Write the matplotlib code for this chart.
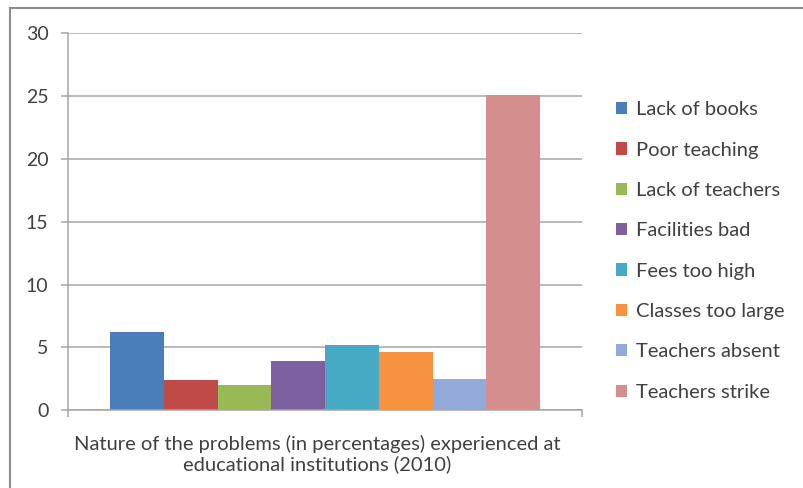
import matplotlib.pyplot as plt
from matplotlib.lines import Line2D

plt.rcParams['font.family'] = ['Lato', 'DejaVu Sans']

# Share of reported problems at educational institutions, 2010 (%)
problems = ["Lack of books", "Poor teaching", "Lack of teachers", "Facilities bad",
            "Fees too high", "Classes too large", "Teachers absent", "Teachers strike"]
percentages = [6.2, 2.4, 2.0, 3.9, 5.2, 4.6, 2.5, 25.1]
colors = ["#4A7EBB", "#BE4B48", "#98B954", "#7D60A0",
          "#46AAC5", "#F69240", "#93A9D8", "#D48E8E"]
y_ticks = [0, 5, 10, 15, 20, 25, 30]
category = "Nature of the problems (in percentages) experienced at\neducational institutions (2010)"

fig = plt.figure(figsize=(8.04, 4.88), dpi=100)
ax = fig.add_axes([0.0846, 0.1598, 0.6393, 0.7716])

# one category, eight series side by side
group = 0.8366
w = group / len(problems)
for i, (name, val, c) in enumerate(zip(problems, percentages, colors)):
    ax.bar((i - (len(problems) - 1) / 2) * w, val, width=w, color=c, label=name)

ax.set_xlim(-0.5, 0.5)
ax.set_ylim(0, 30)
ax.set_yticks(y_ticks)
ax.set_xticks([-0.5, 0.5])
ax.set_xticklabels(["", ""])
ax.yaxis.grid(True, color="#A6A6A6", linewidth=1.1)
ax.set_axisbelow(True)
for s in ["top", "right"]:
    ax.spines[s].set_visible(False)
for s in ["left", "bottom"]:
    ax.spines[s].set_color("#A6A6A6")
    ax.spines[s].set_linewidth(1.1)
ax.tick_params(axis="both", colors="#A6A6A6", length=5, width=1.1, labelsize=14,
               labelcolor="#404040")
ax.tick_params(axis="y", pad=9)

ax.text(-0.015, -2.0, category, ha="center", va="top", fontsize=14.5, color="#404040",
        linespacing=1.15, transform=ax.transData)

leg = ax.legend(loc="center left", bbox_to_anchor=(1.066, 0.4223), frameon=False,
                handlelength=0.55, handleheight=0.55, handletextpad=0.45,
                labelspacing=1.16, fontsize=14.5, borderaxespad=0, borderpad=0)
for t in leg.get_texts():
    t.set_color("#404040")

# chart frame, top and left edges
fig.add_artist(Line2D([10 / 804, 1], [1 - 8 / 488, 1 - 8 / 488], color="#8C8C8C", lw=1.5))
fig.add_artist(Line2D([10 / 804, 10 / 804], [0, 1 - 8 / 488], color="#8C8C8C", lw=1.5))

fig.savefig("out.png", dpi=100, facecolor="white")
